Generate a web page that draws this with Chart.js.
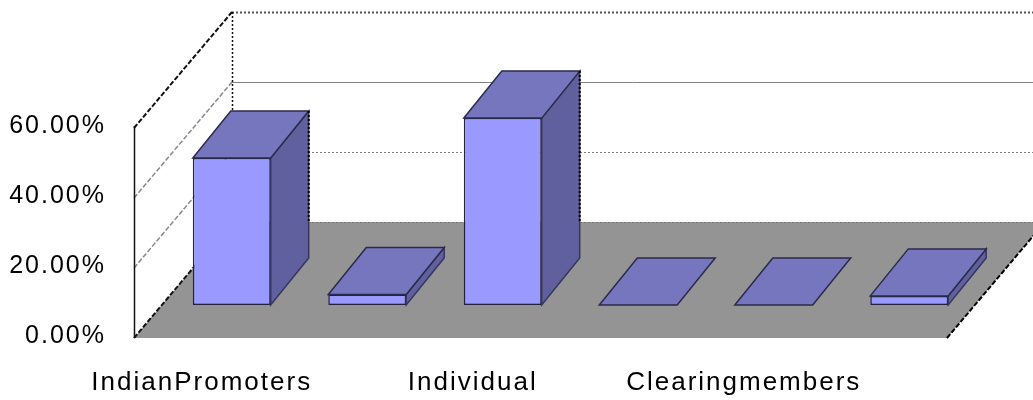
<!DOCTYPE html>
<html>
<head>
<meta charset="utf-8">
<style>
    html, body { margin: 0; padding: 0; background: #fff; }
    canvas { display: block; }
</style>
<script src="https://cdn.jsdelivr.net/npm/chart.js@4"></script>
</head>
<body>
<canvas id="chart" width="1033" height="400"></canvas>
<script>
const categories = ['IndianPromoters', '', 'Individual', '', 'Clearingmembers', ''];
const holdings = [42, 3, 53.4, 0, 0, 2.6];
const yTicks = [0, 20, 40, 60];

// 3D look: how far the back wall and the bars are pushed
const wallDx = 98, wallDy = 116;
const barShiftX = 30, barShiftY = 33;
const barDx = 38, barDy = 47;

function line(ctx, x1, y1, x2, y2, color, dash, width) {
    ctx.save();
    ctx.beginPath();
    ctx.strokeStyle = color;
    ctx.lineWidth = width || 1;
    ctx.setLineDash(dash || []);
    ctx.moveTo(x1, y1);
    ctx.lineTo(x2, y2);
    ctx.stroke();
    ctx.restore();
}

function poly(ctx, pts, fill, stroke) {
    ctx.beginPath();
    pts.forEach((p, i) => i ? ctx.lineTo(p[0], p[1]) : ctx.moveTo(p[0], p[1]));
    ctx.closePath();
    ctx.fillStyle = fill;
    ctx.fill();
    ctx.strokeStyle = stroke;
    ctx.lineWidth = 1.5;
    ctx.stroke();
}

const box3d = {
    id: 'box3d',
    beforeDraw(chart) {
        chart.ctx.letterSpacing = '2px';
    },
    beforeDatasetsDraw(chart) {
        const ctx = chart.ctx;
        const { left, right } = chart.chartArea;
        const y = chart.scales.y;
        const floorY = y.getPixelForValue(0);
        const backFloor = floorY - wallDy;
        ctx.save();
        ctx.letterSpacing = '0px';

        // floor
        ctx.beginPath();
        ctx.moveTo(left, floorY);
        ctx.lineTo(right, floorY);
        ctx.lineTo(right + wallDx, backFloor);
        ctx.lineTo(left + wallDx, backFloor);
        ctx.closePath();
        ctx.fillStyle = '#949494';
        ctx.fill();
        line(ctx, right, floorY, right + wallDx, backFloor, '#000', [5, 2], 2);
        line(ctx, left, floorY, left + wallDx, backFloor, '#111', [5, 2], 2);
        line(ctx, left + wallDx, backFloor + 0.5, 1033, backFloor + 0.5, '#777', [2, 2]);

        // walls and grid lines
        yTicks.slice(1).forEach(v => {
            const py = y.getPixelForValue(v);
            const top = v === yTicks[yTicks.length - 1];
            const solid = v === 40;
            line(ctx, left, py, left + wallDx, py - wallDy, top ? '#111' : '#888', [5, 2], top ? 2 : 1.5);
            line(ctx, left + wallDx, py - wallDy + 0.5, 1033, py - wallDy + 0.5, top ? '#555' : '#808080', solid ? [] : [2, 2], top ? 2 : 1);
        });
        line(ctx, left + wallDx + 0.5, y.getPixelForValue(60) - wallDy, left + wallDx + 0.5, backFloor, '#111', [2, 2], 1.5);
        line(ctx, left + 0.5, y.getPixelForValue(60) - 2, left + 0.5, floorY, '#111', [], 1.5);

        ctx.restore();

        // bars sit further back on the floor than the axis line
        ctx.save();
        ctx.translate(barShiftX, -barShiftY);
    },
    afterDatasetsDraw(chart) {
        const ctx = chart.ctx;
        const meta = chart.getDatasetMeta(0);
        const backFloor = chart.scales.y.getPixelForValue(0) - wallDy + barShiftY;
        meta.data.forEach(bar => {
            const l = bar.x - bar.width / 2, r = bar.x + bar.width / 2;
            const t = bar.y, b = bar.base;
            if (b - t > 0.5) {
                poly(ctx, [[r, t], [r + barDx, t - barDy], [r + barDx, b - barDy], [r, b]], '#60609f', '#35355f');
            }
            poly(ctx, [[l, t], [r, t], [r + barDx, t - barDy], [l + barDx, t - barDy]], '#7676bf', '#2a2a4a');
            if (t - barDy < backFloor) {
                line(ctx, r + barDx, t - barDy, r + barDx, backFloor, '#000', [2, 2], 2);
            }
        });
        ctx.restore();
    }
};

new Chart(document.getElementById('chart'), {
    type: 'bar',
    data: {
        labels: categories,
        datasets: [{
            data: holdings,
            backgroundColor: '#9999ff',
            borderColor: '#22223c',
            borderWidth: 1.5,
            borderSkipped: false,
            barPercentage: 0.575,
            categoryPercentage: 1,
            clip: false
        }]
    },
    options: {
        responsive: false,
        animation: false,
        devicePixelRatio: 1,
        layout: { padding: { top: 128, right: 86, left: 0, bottom: 0 } },
        plugins: {
            legend: { display: false },
            tooltip: { enabled: false }
        },
        scales: {
            x: {
                grid: { display: false },
                border: { display: false },
                afterFit: scale => { scale.height = 62; },
                ticks: {
                    autoSkip: false,
                    maxRotation: 0,
                    color: '#000',
                    padding: 21,
                    font: { family: 'Liberation Sans', size: 26 }
                }
            },
            y: {
                min: 0,
                max: 60,
                grid: { display: false },
                border: { display: false },
                afterFit: scale => { scale.width = 134; },
                afterBuildTicks: scale => { scale.ticks = yTicks.map(value => ({ value })); },
                ticks: {
                    color: '#000',
                    padding: 20,
                    labelOffset: -2,
                    callback: value => value.toFixed(2) + '%',
                    font: { family: 'Liberation Sans', size: 25 }
                }
            }
        }
    },
    plugins: [box3d]
});
</script>
</body>
</html>
